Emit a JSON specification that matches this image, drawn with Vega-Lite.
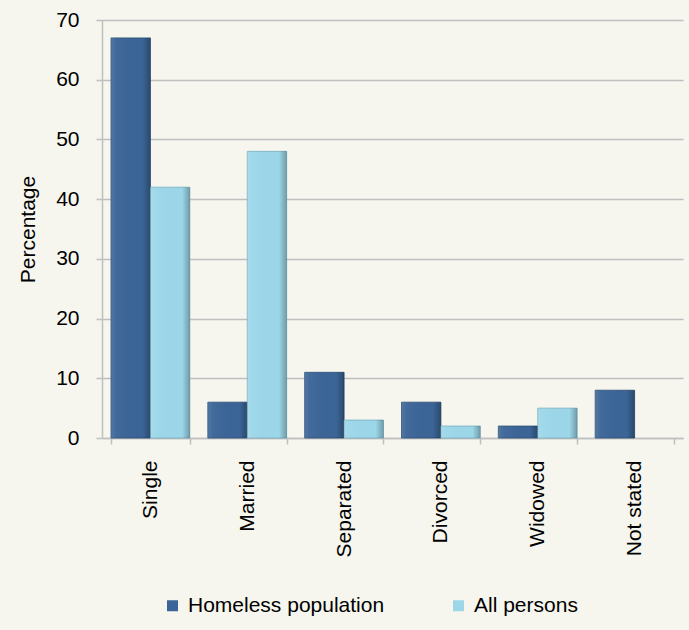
{
  "$schema": "https://vega.github.io/schema/vega-lite/v6.json",
  "autosize": "none",
  "width": 581,
  "height": 418,
  "padding": {"left": 102, "top": 20, "right": 6, "bottom": 192},
  "background": "#f6f6ef",
  "data": {"values": [
    {"status": "Single", "series": "Homeless population", "pct": 67},
    {"status": "Single", "series": "All persons", "pct": 42},
    {"status": "Married", "series": "Homeless population", "pct": 6},
    {"status": "Married", "series": "All persons", "pct": 48},
    {"status": "Separated", "series": "Homeless population", "pct": 11},
    {"status": "Separated", "series": "All persons", "pct": 3},
    {"status": "Divorced", "series": "Homeless population", "pct": 6},
    {"status": "Divorced", "series": "All persons", "pct": 2},
    {"status": "Widowed", "series": "Homeless population", "pct": 2},
    {"status": "Widowed", "series": "All persons", "pct": 5},
    {"status": "Not stated", "series": "Homeless population", "pct": 8},
    {"status": "Not stated", "series": "All persons", "pct": 0}
  ]},
  "transform": [{"filter": "datum.pct > 0"}],
  "encoding": {
    "x": {
      "field": "status", "type": "nominal",
      "sort": ["Single", "Married", "Separated", "Divorced", "Widowed", "Not stated"],
      "scale": {"paddingInner": 0.186, "paddingOuter": 0.093},
      "axis": {
        "title": null, "labelAngle": -90, "labelAlign": "right", "labelBaseline": "middle",
        "tickBand": "extent", "tickSize": 6, "tickColor": "#bfbfbf", "domainColor": "#bfbfbf",
        "labelPadding": 16, "labelFontSize": 21, "labelFont": "Liberation Sans", "labelColor": "#000000",
        "domainWidth": 1.5, "tickWidth": 1.5
      }
    },
    "xOffset": {"field": "series", "sort": ["Homeless population", "All persons"], "scale": {"domain": ["Homeless population", "All persons"]}},
    "y": {
      "field": "pct", "type": "quantitative",
      "scale": {"domain": [0, 70]},
      "axis": {
        "title": "Percentage", "titleFont": "Liberation Sans", "titleFontSize": 21, "titleFontWeight": "normal",
        "titleColor": "#000000", "titlePadding": 17,
        "values": [0, 10, 20, 30, 40, 50, 60, 70],
        "labelFontSize": 21, "labelFont": "Liberation Sans", "labelColor": "#000000", "labelPadding": 17,
        "tickSize": 6, "tickColor": "#bfbfbf", "domainColor": "#bfbfbf", "gridColor": "#bfbfbf",
        "domainWidth": 1.5, "tickWidth": 1.5, "gridWidth": 1.5
      }
    }
  },
  "layer": [
    {
      "mark": {"type": "bar", "strokeWidth": 0.8},
      "encoding": {
        "color": {
          "field": "series", "type": "nominal",
          "sort": ["Homeless population", "All persons"],
          "scale": {"domain": ["Homeless population", "All persons"], "range": ["#3b6597", "#9cd7e9"]},
          "legend": {
            "title": null, "orient": "none", "direction": "horizontal",
            "legendX": 60, "legendY": 575,
            "symbolType": "square", "symbolSize": 121, "symbolStrokeWidth": 0,
            "labelFontSize": 21, "labelFont": "Liberation Sans", "labelColor": "#000000",
            "labelLimit": 400, "columnPadding": 63, "labelOffset": 5
          }
        },
        "stroke": {
          "field": "series", "type": "nominal",
          "scale": {"domain": ["Homeless population", "All persons"], "range": ["#2a4b73", "#74aebf"]},
          "legend": null
        }
      }
    },
    {
      "mark": {
        "type": "bar",
        "color": {
          "gradient": "linear", "x1": 0, "x2": 1, "y1": 0, "y2": 0,
          "stops": [
            {"offset": 0, "color": "rgba(255,255,255,0.12)"},
            {"offset": 0.12, "color": "rgba(255,255,255,0.04)"},
            {"offset": 0.8, "color": "rgba(0,0,0,0)"},
            {"offset": 1, "color": "rgba(0,0,0,0.28)"}
          ]
        }
      },
      "encoding": {}
    }
  ],
  "config": {"view": {"stroke": null}}
}
